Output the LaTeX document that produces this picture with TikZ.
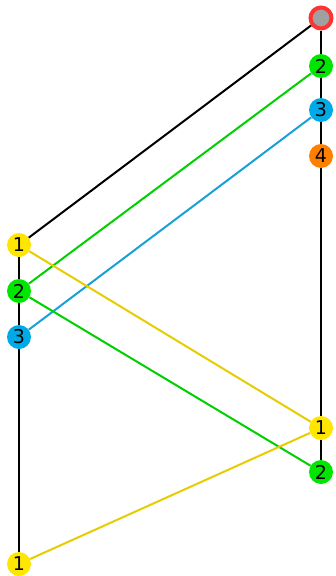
\documentclass[tikz,border=0pt]{standalone}
\usepackage{fontspec}
\setmainfont{DejaVu Sans}
\usetikzlibrary{arrows.meta,positioning}
\definecolor{pinyellow}{HTML}{FFE600}
\definecolor{pingreen}{HTML}{00E600}
\definecolor{pinblue}{HTML}{00AAE6}
\definecolor{pinorange}{HTML}{FF7F00}
\definecolor{pingray}{HTML}{A0A0A0}
\definecolor{pinred}{HTML}{FF3333}
\definecolor{lineyellow}{HTML}{E6CC00}
\definecolor{linegreen}{HTML}{00D000}
\definecolor{lineblue}{HTML}{18A0D8}
\tikzset{
  pin/.style={circle, inner sep=0pt, minimum size=24pt, font=\fontsize{19}{21}\selectfont},
  root/.style={circle, draw=pinred, line width=4pt, fill=pingray, inner sep=0pt, minimum size=21pt},
  wire/.style={line width=2pt, black},
  link/.style={line width=2pt},
}
\begin{document}
\begin{tikzpicture}[x=1pt, y=-1pt]
        \useasboundingbox (0,0) rectangle (336,576);
        % right column
        \node[root] (r0) at (321,18) {};
        \node[pin, fill=pingreen] (r2) at (321,66) {2};
        \node[pin, fill=pinblue] (r3) at (321,110) {3};
        \node[pin, fill=pinorange] (r4) at (321,156) {4};
        \node[pin, fill=pinyellow] (r1b) at (321,428) {1};
        \node[pin, fill=pingreen] (r2b) at (321,472) {2};
        % left column
        \node[pin, fill=pinyellow] (l1) at (19,245) {1};
        \node[pin, fill=pingreen] (l2) at (19,291) {2};
        \node[pin, fill=pinblue] (l3) at (19,337) {3};
        \node[pin, fill=pinyellow] (l1b) at (19,564) {1};
        \draw[wire] (r0)--(r2); \draw[wire] (r2)--(r3); \draw[wire] (r3)--(r4);
        \draw[wire] (r4)--(r1b); \draw[wire] (r1b)--(r2b);
        \draw[wire] (l1)--(l2); \draw[wire] (l2)--(l3); \draw[wire] (l3)--(l1b);
        \draw[wire] (r0)--(l1);
        \draw[link, linegreen] (r2)--(l2);
        \draw[link, lineblue] (r3)--(l3);
        \draw[link, lineyellow] (l1)--(r1b);
        \draw[link, linegreen] (l2)--(r2b);
        \draw[link, lineyellow] (l1b)--(r1b);
      \end{tikzpicture}
\end{document}
